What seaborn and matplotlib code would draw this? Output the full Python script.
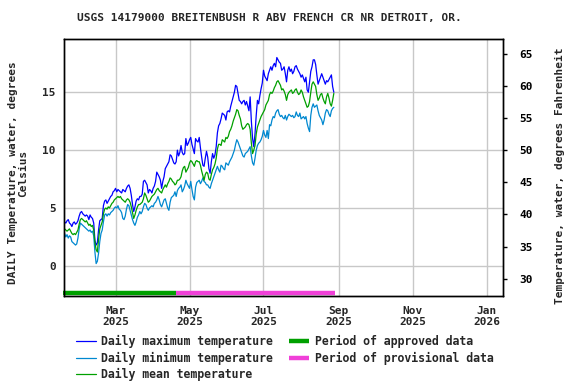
import pandas as pd
import matplotlib
matplotlib.use("Agg")
import matplotlib.pyplot as plt
import seaborn as sns

# daily water temperature, deg C, starting 2025-01-18
start_date = "2025-01-18"

max_temp = [
    3.8, 3.7, 3.9, 4.0, 3.7, 3.6, 3.4, 3.7, 3.8, 3.6,
    3.7, 3.9, 4.3, 4.6, 4.7, 4.5, 4.4, 4.3, 4.4, 4.3,
    4.0, 4.4, 4.2, 4.1, 3.7, 2.2, 1.8, 2.0, 3.1, 3.9,
    4.0, 4.1, 5.2, 5.6, 5.7, 5.4, 5.6, 5.8, 6.0, 6.1,
    6.4, 6.5, 6.7, 6.4, 6.6, 6.5, 6.4, 6.3, 6.6, 6.5,
    6.4, 6.7, 6.9, 7.0, 6.7, 6.1, 5.3, 4.7, 5.1, 5.6,
    5.8, 5.7, 6.0, 6.0, 6.2, 7.3, 7.4, 7.2, 7.0, 6.3,
    6.6, 6.5, 6.3, 6.7, 6.9, 7.3, 8.1, 7.9, 7.7, 7.4,
    6.7, 7.3, 7.7, 8.4, 8.6, 8.8, 9.0, 9.6, 9.5, 9.2,
    8.9, 8.8, 9.0, 10.0, 9.5, 9.8, 10.4, 9.8, 9.6, 9.7,
    11.0, 10.4, 10.6, 10.9, 11.1, 10.5, 10.1, 9.7, 11.0, 10.8,
    10.7, 11.1, 10.2, 9.4, 8.7, 8.6, 9.3, 9.9, 9.4, 8.4,
    8.0, 9.0, 9.7, 9.3, 9.6, 10.3, 11.5, 12.1, 12.3, 12.7,
    13.2, 13.1, 13.0, 12.6, 13.3, 13.4, 13.3, 13.8, 14.2, 14.6,
    15.0, 15.6, 15.5, 14.9, 14.3, 14.2, 14.0, 14.2, 14.3, 13.9,
    14.2, 13.8, 13.4, 14.6, 12.5, 11.0, 10.3, 11.4, 13.0, 14.3,
    14.0, 14.7, 15.3, 15.8, 16.9, 16.4, 16.2, 16.0, 16.6, 16.9,
    17.2, 16.9, 17.3, 17.5, 17.2, 18.0, 17.8, 17.6, 17.5, 16.9,
    17.0, 17.2, 16.6, 15.9, 16.9, 17.2, 16.8, 17.0, 16.6, 16.8,
    17.2, 17.3, 17.0, 16.8, 16.6, 16.3, 16.5, 16.2, 15.9, 16.3,
    15.2, 15.0, 15.9, 16.8, 17.2, 17.8, 17.8, 17.4, 16.5, 15.7,
    16.0, 16.3, 16.6, 16.3, 16.0, 15.7, 16.0, 15.9, 16.1, 16.3,
    16.5, 15.5, 15.0,
]

min_temp = [
    2.8, 2.5, 2.7, 2.4, 2.6, 2.5, 2.1, 2.0, 1.9, 1.8,
    1.9, 2.4, 3.2, 3.7, 3.6, 3.5, 3.4, 3.3, 3.2, 3.1,
    3.0, 3.1, 2.9, 3.0, 2.6, 1.2, 0.2, 0.4, 1.1, 2.1,
    2.8, 3.1, 3.8, 4.4, 4.5, 4.3, 4.5, 4.4, 4.6, 4.7,
    4.8, 5.0, 5.1, 5.0, 5.2, 4.9, 4.8, 4.6, 4.1, 4.0,
    4.3, 4.9, 5.3, 5.2, 4.8, 4.4, 4.0, 3.7, 3.5, 3.8,
    4.2, 4.4, 4.7, 4.5, 4.7, 5.1, 5.4, 5.3, 5.0, 4.8,
    5.0, 5.1, 5.2, 5.1, 5.4, 5.5, 5.7, 6.0, 5.7, 5.3,
    5.1, 5.4, 5.7, 5.8, 5.4, 5.0, 4.8, 5.5, 5.9, 6.0,
    6.1, 6.4, 6.0, 6.5, 6.7, 6.8, 7.0, 6.4, 6.6, 6.9,
    7.4, 7.1, 6.9, 6.7, 7.3, 6.6, 6.0, 5.7, 6.8, 7.2,
    7.3, 7.4, 7.1, 7.3, 7.6, 7.3, 7.2, 7.0, 7.0, 6.8,
    6.7, 7.1, 7.4, 7.7, 8.0, 8.3, 8.6, 8.3, 8.1, 8.7,
    8.6, 8.4, 8.3, 8.9, 8.8, 8.7, 9.0, 9.2, 9.4, 9.7,
    10.0, 10.5, 10.9, 10.7, 10.4, 10.1, 9.8, 9.5, 9.4, 9.7,
    9.8, 9.9, 10.1, 10.3, 9.5, 8.9, 8.7, 9.3, 10.0, 10.4,
    10.6, 10.7, 10.9, 11.2, 11.7, 11.3, 11.1, 11.7, 11.0, 12.2,
    12.1, 12.6, 12.9, 12.8, 13.2, 13.4, 13.5, 13.1, 12.9, 13.0,
    12.8, 12.7, 13.0, 12.6, 12.9, 13.1, 13.0, 12.9, 13.0, 12.8,
    12.9, 13.3, 13.0, 12.9, 13.2, 12.7, 12.8, 12.9, 12.7, 12.9,
    12.3, 11.9, 11.6, 13.0, 13.7, 14.0, 13.7, 13.8, 13.9, 13.4,
    13.0, 12.8, 12.6, 12.2, 12.6, 13.2, 13.5, 13.4, 13.1, 12.9,
    13.4, 13.6, 13.7,
]

mean_temp = [
    3.2, 3.1, 3.0, 3.1, 3.2, 3.0, 2.8, 2.7, 2.8, 2.7,
    2.9, 3.1, 3.6, 4.0, 4.1, 4.0, 3.9, 3.8, 3.9, 3.7,
    3.5, 3.6, 3.4, 3.5, 3.1, 2.0, 1.4, 1.2, 2.3, 3.2,
    3.5, 3.8, 4.5, 4.9, 5.0, 4.9, 5.1, 5.0, 5.2, 5.4,
    5.5, 5.7, 5.8, 5.9, 6.0, 5.9, 6.0, 5.8, 5.7, 5.6,
    5.5, 5.7, 5.8, 5.7, 5.5, 5.1, 4.6, 4.1, 4.4, 4.8,
    5.1, 5.3, 5.3, 5.4, 5.5, 5.8, 6.3, 6.1, 5.8, 5.5,
    5.6, 5.8, 6.0, 6.1, 6.2, 6.4, 6.6, 6.7, 6.5, 6.4,
    6.3, 6.6, 6.8, 7.0, 6.8, 7.1, 7.3, 7.6, 7.5, 7.3,
    7.2, 7.0, 7.1, 7.4, 7.4, 7.5, 7.7, 8.2, 8.5, 8.6,
    8.1, 8.3, 8.5, 8.9, 9.1, 9.0, 8.8, 8.6, 9.0, 9.1,
    9.0, 9.0, 8.7, 8.2, 7.8, 7.4, 7.9, 8.1, 8.0, 7.5,
    7.4, 7.9, 8.3, 8.5, 8.8, 9.3, 10.1, 10.5, 10.5, 10.4,
    10.9, 10.8, 10.7, 11.1, 11.0, 11.2, 11.6, 11.8, 12.1, 12.5,
    12.8, 13.1, 13.5, 13.4, 13.0, 12.7, 12.1, 11.8, 11.9, 12.0,
    12.2, 12.3, 12.2, 11.8, 10.6, 9.7, 10.0, 10.4, 11.4, 12.0,
    12.3, 12.6, 12.9, 13.1, 13.3, 13.5, 13.9, 14.1, 14.3, 14.8,
    15.0, 14.9, 15.1, 15.4, 15.6, 15.9, 16.0, 15.8, 15.6, 15.2,
    15.3, 15.1, 14.8, 14.3, 14.8, 15.0, 15.1, 15.2, 14.9, 15.0,
    15.2, 15.3, 15.0, 14.8, 14.9, 15.2, 15.0, 14.6, 14.3, 14.0,
    13.7, 13.8, 14.2, 15.0, 15.7, 15.9, 15.7, 15.5, 14.8, 14.3,
    14.5, 14.8, 14.9, 14.5, 14.2, 14.0, 14.6, 14.9, 14.5, 14.0,
    13.8, 14.3, 14.9,
]

approved_period = ["2025-01-17", "2025-04-20"]
provisional_period = ["2025-04-20", "2025-08-29"]

tick_dates = ["2025-03-01", "2025-05-01", "2025-07-01",
              "2025-09-01", "2025-11-01", "2026-01-01"]
tick_labels = ["Mar\n2025", "May\n2025", "Jul\n2025",
               "Sep\n2025", "Nov\n2025", "Jan\n2026"]
celsius_ticks = [0, 5, 10, 15]
fahrenheit_ticks = [30, 35, 40, 45, 50, 55, 60, 65]

dates = pd.date_range(start_date, periods=len(max_temp), freq="D")
df = pd.DataFrame({"date": dates, "max": max_temp, "min": min_temp, "mean": mean_temp})

sns.set_style("white")
plt.rcParams["font.family"] = ["DejaVu Sans Mono"]
plt.rcParams["font.weight"] = "bold"
plt.rcParams["font.size"] = 8

fig = plt.figure(figsize=(5.76, 3.84), dpi=100)
ax = fig.add_axes([64 / 576, 1 - 296 / 384, (503 - 64) / 576, (296 - 39) / 384])

ylo, yhi = -2.6, 19.6
bar_y = -2.3

sns.lineplot(data=df, x="date", y="max", color="#0000ff", lw=0.9, ax=ax,
             label="Daily maximum temperature")
sns.lineplot(data=df, x="date", y="min", color="#0088d0", lw=0.9, ax=ax,
             label="Daily minimum temperature")
sns.lineplot(data=df, x="date", y="mean", color="#00a000", lw=0.9, ax=ax,
             label="Daily mean temperature")
ax.plot(pd.to_datetime(approved_period), [bar_y, bar_y], color="#00a000", lw=3.2,
        solid_capstyle="butt", label="Period of approved data", clip_on=False)
ax.plot(pd.to_datetime(provisional_period), [bar_y, bar_y], color="#f040d8", lw=3.2,
        solid_capstyle="butt", label="Period of provisional data", clip_on=False)

handles, labels = ax.get_legend_handles_labels()
if ax.get_legend() is not None:
    ax.get_legend().remove()

ax.set_xlim(pd.Timestamp("2025-01-17 12:00"), pd.Timestamp("2026-01-14 12:00"))
ax.set_ylim(ylo, yhi)
ax.set_xticks(pd.to_datetime(tick_dates))
ax.set_xticklabels(tick_labels)
ax.set_yticks(celsius_ticks)
ax.tick_params(axis="x", length=0, pad=7)
ax.tick_params(axis="y", length=0, pad=6)
ax.grid(True, color="#c8c8c8", lw=1)
ax.set_axisbelow(True)
ax.set_xlabel("")
ax.set_ylabel("")

ax2 = ax.twinx()
ax2.set_ylim(ylo * 9 / 5 + 32, yhi * 9 / 5 + 32)
ax2.set_yticks(fahrenheit_ticks)
ax2.tick_params(axis="y", length=3, width=1, pad=9, direction="out", colors="black")
ax2.grid(False)

for a in (ax, ax2):
    for s in a.spines.values():
        s.set_color("black")
        s.set_linewidth(1)

fig.text(269 / 576, 1 - 18 / 384, "USGS 14179000 BREITENBUSH R ABV FRENCH CR NR DETROIT, OR.",
         ha="center", va="center")
fig.text(18 / 576, 1 - 173 / 384, "DAILY Temperature, water, degrees\nCelsius",
         rotation=90, ha="center", va="center", multialignment="center", linespacing=1.1)
fig.text(560 / 576, 1 - 176 / 384, "Temperature, water, degrees Fahrenheit",
         rotation=90, ha="center", va="center")

fig.legend(handles, labels, loc="upper left", bbox_to_anchor=(76 / 576, 1 - 335 / 384),
           ncol=2, frameon=False, borderaxespad=0, borderpad=0, handlelength=1.7,
           handletextpad=0.5, columnspacing=1.4, labelspacing=0.3, fontsize=8.3)

fig.savefig("out.png", dpi=100)
